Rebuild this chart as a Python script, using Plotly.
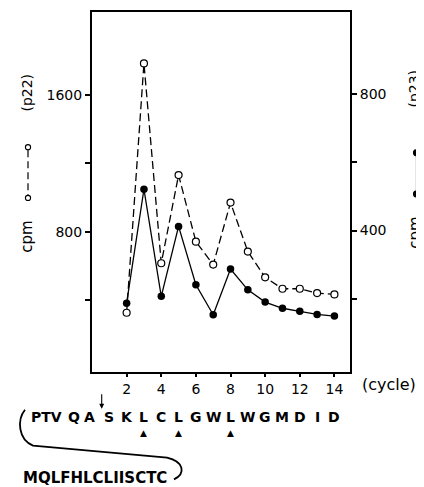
import plotly.graph_objects as go

# ---- data ----
cycles = [2, 3, 4, 5, 6, 7, 8, 9, 10, 11, 12, 13, 14]
p22_cpm = [328, 1784, 617, 1132, 743, 609, 971, 685, 535, 468, 468, 443, 435]
p23_cpm = [187, 521, 207, 412, 241, 153, 287, 226, 190, 172, 163, 154, 149]

x_tick_vals = [2, 4, 6, 8, 10, 12, 14]
left_tick_vals = [400, 800, 1200, 1600]
left_tick_text = ["", "800", "", "1600"]
right_tick_vals = [200, 400, 600, 800]
right_tick_text = ["", "400", "", "800"]

seq_cycles = [1, 2, 3, 4, 5, 6, 7, 8, 9, 10, 11, 12, 13, 14]
seq_letters = ["S", "K", "L", "C", "L", "G", "W", "L", "W", "G", "M", "D", "I", "D"]
pre_groups = ["PTV", "Q", "A"]
pre_positions = [-2.6, -1.05, -0.15]
marked_cycles = [3, 5, 8]
signal_seq = "MQLFHLCLIISCTC"

# ---- layout geometry (absolute page pixels; page body has an 8px offset) ----
OFF = 8
W, H = 424 - OFF, 487 - OFF
PLOT_L, PLOT_R, PLOT_T, PLOT_B = 92, 350, 10, 372
PW, PH = PLOT_R - PLOT_L, PLOT_B - PLOT_T
ML, MT = PLOT_L - OFF, PLOT_T - OFF
MR, MB = W - ML - PW, H - MT - PH
XR = [0, 14.9]
YL = [-18, 2084]
YR = [-15, 1041]


def px(x):
    return (x - PLOT_L) / PW


def py(y):
    return (PLOT_B - y) / PH


def cyc(c):
    return (c - XR[0]) / (XR[1] - XR[0])


fig = go.Figure()
fig.add_trace(go.Scatter(
    x=cycles, y=p22_cpm, mode="lines+markers", yaxis="y",
    line=dict(color="black", width=1.3, dash="8px,4px"),
    marker=dict(symbol="circle", size=7, color="white",
                line=dict(color="black", width=1.2)),
))
fig.add_trace(go.Scatter(
    x=cycles, y=p23_cpm, mode="lines+markers", yaxis="y2",
    line=dict(color="black", width=1.3),
    marker=dict(symbol="circle", size=7.5, color="black"),
))

axis_common = dict(showgrid=False, zeroline=False, showline=True,
                   linecolor="black", linewidth=2, ticks="outside",
                   tickcolor="black", tickwidth=1.5,
                   tickfont=dict(family="DejaVu Sans", size=14, color="black"))

fig.update_layout(
    width=W, height=H,
    margin=dict(l=ML, r=MR, t=MT, b=MB, pad=0),
    plot_bgcolor="white", paper_bgcolor="white",
    showlegend=False,
    font=dict(family="DejaVu Sans", size=14, color="black"),
    xaxis=dict(range=XR, tickvals=x_tick_vals, ticklen=3, mirror=True,
               **axis_common),
    yaxis=dict(range=YL, tickvals=left_tick_vals, ticktext=left_tick_text,
               ticklen=5, **axis_common),
    yaxis2=dict(range=YR, tickvals=right_tick_vals, ticktext=right_tick_text,
                ticklen=5, overlaying="y", side="right", **axis_common),
)

ann = []


def label(text, x, y, size, angle=0, xref="paper"):
    return dict(text=text, x=x, y=y, xref=xref, yref="paper", showarrow=False,
                textangle=angle, xanchor="center", yanchor="middle",
                font=dict(size=size))


# axis titles (rotated)
ann.append(label("(p22)", px(27), py(91), 14, -90))
ann.append(label("cpm", px(27), py(236), 15, -90))
ann.append(label("(p23)", px(414), py(87), 14, -90))
ann.append(label("cpm", px(415), py(232), 15, -90))
ann.append(label("(cycle)", px(389), py(385), 16))

# sequence letters
for c, l in zip(seq_cycles, seq_letters):
    ann.append(label("<b>%s</b>" % l, c, py(417), 14, xref="x"))
for c, l in zip(pre_positions, pre_groups):
    ann.append(label("<b>%s</b>" % l, cyc(c), py(417), 14))
for c in marked_cycles:
    ann.append(label("▲", c, py(433), 9, xref="x"))
ann.append(label("<b>%s</b>" % signal_seq, px(95), py(479), 15))
# cleavage arrow
ann.append(dict(text="", x=px(101.7), y=py(409), xref="paper", yref="paper",
                showarrow=True, ax=0, ay=-16, arrowhead=2, arrowsize=0.9,
                arrowwidth=1.1, arrowcolor="black"))
fig.update_layout(annotations=ann)

shapes = []
# bracket joining signal peptide to mature sequence
pts = [(25, 410), (17, 420), (18, 440), (33, 446), (167, 458),
       (184, 462), (186, 474), (174, 480)]
path = "M {:.4f},{:.4f} C {:.4f},{:.4f} {:.4f},{:.4f} {:.4f},{:.4f} L {:.4f},{:.4f} C {:.4f},{:.4f} {:.4f},{:.4f} {:.4f},{:.4f}".format(
    px(pts[0][0]), py(pts[0][1]), px(pts[1][0]), py(pts[1][1]),
    px(pts[2][0]), py(pts[2][1]), px(pts[3][0]), py(pts[3][1]),
    px(pts[4][0]), py(pts[4][1]), px(pts[5][0]), py(pts[5][1]),
    px(pts[6][0]), py(pts[6][1]), px(pts[7][0]), py(pts[7][1]))
shapes.append(dict(type="path", path=path, xref="paper", yref="paper",
                   line=dict(color="black", width=1.8)))


# legend glyphs in axis titles
def circ(cx, cy, r, filled):
    return dict(type="circle", xref="paper", yref="paper",
                x0=px(cx - r), x1=px(cx + r), y0=py(cy + r), y1=py(cy - r),
                line=dict(color="black", width=1.1),
                fillcolor="black" if filled else "white")


shapes.append(dict(type="line", xref="paper", yref="paper", x0=px(28), x1=px(28),
                   y0=py(149), y1=py(194),
                   line=dict(color="black", width=1.2, dash="7px,4px")))
shapes.append(circ(28, 146, 2.6, False))
shapes.append(circ(28, 197, 2.6, False))
shapes.append(dict(type="line", xref="paper", yref="paper", x0=px(416.5), x1=px(416.5),
                   y0=py(151.5), y1=py(193), line=dict(color="black", width=1.2)))
shapes.append(circ(416.5, 151.5, 3, True))
shapes.append(circ(416.5, 193, 3, True))
fig.update_layout(shapes=shapes)

fig.write_html("out.html")
